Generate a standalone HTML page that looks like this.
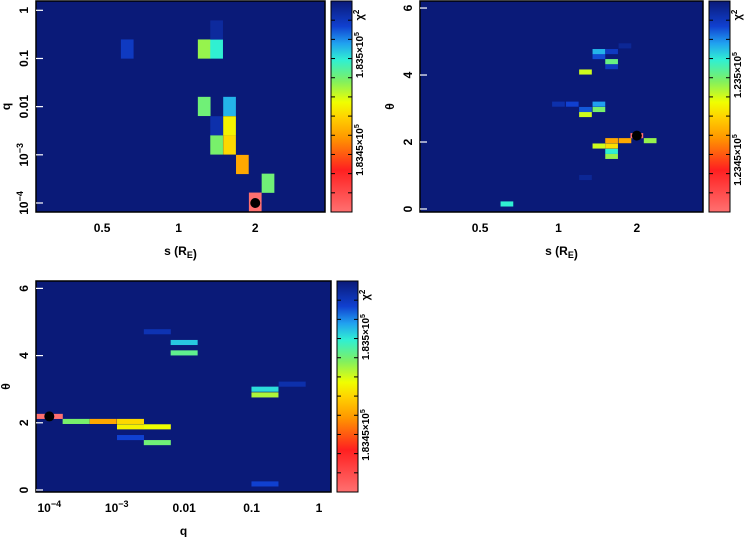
<!DOCTYPE html>
<html><head><meta charset="utf-8"><style>
html,body{margin:0;padding:0;background:#fff;}
svg{display:block;font-family:"Liberation Sans",sans-serif;font-weight:bold;}
</style></head><body>
<svg id="c" width="754" height="537" xmlns="http://www.w3.org/2000/svg"></svg>
<script>
// Panel A: s vs q
const aS = [0.628,1.26,1.41,1.41,1.26,1.585,1.41,1.585,1.41,1.585,1.78,2.245,2.0];
const aQ = [0.157,0.157,0.157,0.39,0.0101,0.0101,0.004,0.004,0.0016,0.0016,6.3e-4,2.57e-4,1.04e-4];
const aV = [0.9,0.6,0.72,0.95,0.64,0.78,0.93,0.5,0.63,0.46,0.38,0.64,0.0];
// Panel B: s vs theta
const bS = [0.634,1.27,1.60,1.60,1.43,1.60,1.60,1.80,2.0,2.25,1.27,1.27,1.43,1.43,1.0,1.13,1.27,1.60,1.60,1.43,1.43,1.60,1.80];
const bT = [0.15,0.94,1.57,1.72,1.88,1.88,2.04,2.04,2.19,2.04,2.82,2.97,2.97,3.13,3.13,3.13,4.09,4.25,4.40,4.55,4.70,4.70,4.87];
const bV = [0.72,0.96,0.6,0.72,0.55,0.47,0.38,0.38,0.0,0.6,0.55,0.86,0.63,0.8,0.93,0.88,0.55,0.9,0.65,0.87,0.78,0.9,0.96];
// Panel C: q vs theta
const cQ = [1e-4,2.5e-4,6.3e-4,1.6e-3,1.6e-3,4e-3,1.6e-3,4e-3,4e-3,0.01,0.01,0.158,0.158,0.4,0.158];
const cT = [2.19,2.04,2.04,2.04,1.88,1.88,1.56,1.41,4.71,4.39,4.08,3.0,2.83,3.15,0.18];
const cV = [0.0,0.63,0.38,0.46,0.5,0.52,0.88,0.64,0.92,0.76,0.66,0.74,0.58,0.93,0.88];
const best = {A:[2.0,1e-4],B:[2.0,2.19],C:[1e-4,2.19]};

const NS="http://www.w3.org/2000/svg";
const svg=document.getElementById('c');
function mk(t,a,p){const e=document.createElementNS(NS,t);for(const k in a)e.setAttribute(k,a[k]);(p||svg).appendChild(e);return e;}
const stops=[[0,[255,112,112]],[0.2,[255,32,32]],[0.35,[255,150,0]],[0.45,[255,210,0]],[0.52,[240,255,0]],[0.62,[128,240,96]],[0.72,[48,240,210]],[0.8,[32,160,240]],[0.88,[16,64,208]],[1,[10,26,120]]];
function cmap(v){for(let i=1;i<stops.length;i++){if(v<=stops[i][0]){const a=stops[i-1],b=stops[i],f=(v-a[0])/(b[0]-a[0]);const c=a[1].map((x,j)=>Math.round(x+(b[1][j]-x)*f));return `rgb(${c})`;}}return 'rgb(10,26,120)';}
// gradient
const defs=mk('defs',{});const g=mk('linearGradient',{id:'cb',x1:0,y1:1,x2:0,y2:0},defs);
stops.forEach(s=>mk('stop',{offset:s[0],'stop-color':cmap(s[0])},g));

function log(x){return Math.log10(x);}
function panel(o){
  const grp=mk('g',{});
  
  
  const X=v=>o.x0+(o.xf(v)-o.xf(o.xmin))/(o.xf(o.xmax)-o.xf(o.xmin))*(o.x1-o.x0);
  const Y=v=>o.y1-(o.yf(v)-o.yf(o.ymin))/(o.yf(o.ymax)-o.yf(o.ymin))*(o.y1-o.y0);
  const bg=mk('rect',{x:o.x0,y:o.y0,width:o.x1-o.x0,height:o.y1-o.y0,fill:'rgb(10,26,120)'},grp);
  
  
  for(let i=0;i<o.xs.length;i++){
    const cx=X(o.xs[i]),cy=Y(o.ys[i]);
    const r=mk('rect',{x:cx-o.cw/2,y:cy-o.ch/2,width:o.cw,height:o.ch,fill:cmap(o.vs[i])},grp);
    
    
  }
  const d=mk('circle',{cx:X(o.best[0]),cy:Y(o.best[1]),r:5,fill:'#000'},grp);
  
  
  // frame
  mk('rect',{x:o.x0,y:o.y0,width:o.x1-o.x0,height:o.y1-o.y0,fill:'none',stroke:'#000','stroke-width':1.5},grp);
  // y ticks
  o.yticks.forEach((t,i)=>{const y=Y(t);mk('line',{x1:o.x0,x2:o.x0+7,y1:y,y2:y,stroke:'#fff','stroke-width':1.2},grp);
    const tx=mk('text',{x:0,y:0,'font-size':12,'text-anchor':'middle',transform:`translate(${o.x0-8},${y}) rotate(-90)`},grp);tx.innerHTML=o.ylab[i];
    
    });
  o.xticks.forEach((t,i)=>{const x=X(t);
    const tx=mk('text',{x:x,y:o.y1+20,'font-size':12,'text-anchor':'middle'},grp);tx.innerHTML=o.xlab[i];
    
    });
  const xt=mk('text',{x:(o.x0+o.x1)/2,y:o.y1+43,'font-size':12,'text-anchor':'middle'},grp);xt.innerHTML=o.xtitle;
  
  
  const yt=mk('text',{x:0,y:0,'font-size':12,'text-anchor':'middle',transform:`translate(${o.x0-26},${(o.y0+o.y1)/2}) rotate(-90)`},grp);yt.innerHTML=o.ytitle;
  
  
  // colorbar
  const cb=mk('rect',{x:o.x1+6,y:o.y0,width:21,height:o.y1-o.y0,fill:'url(#cb)',stroke:'#000','stroke-width':1},grp);
  
  
  for(let k=1;k<11;k++){const y=o.y0+k*(o.y1-o.y0)/11;mk('line',{x1:o.x1+6,x2:o.x1+10,y1:y,y2:y,stroke:'#000'},grp);mk('line',{x1:o.x1+23,x2:o.x1+27,y1:y,y2:y,stroke:'#000'},grp);}
  o.cbl.forEach(([txt,yy])=>{const t=mk('text',{x:0,y:0,'font-size':10,'text-anchor':'middle',transform:`translate(${o.x1+38},${yy}) rotate(-90)`},grp);t.innerHTML=txt;
    
    });
  const ch=mk('text',{x:0,y:0,'font-size':11,'text-anchor':'middle',transform:`translate(${o.x1+38},${o.y0+14}) rotate(-90)`},grp);ch.innerHTML='χ<tspan dy="-4" font-size="8">2</tspan>';
  
  
}
const l2=v=>Math.log2(v);
panel({name:'panel-s-q',x0:36,x1:325,y0:1,y1:212,xf:l2,xmin:0.275,xmax:3.76,yf:log,ymin:0.65e-4,ymax:1.56,
  xs:aS,ys:aQ,vs:aV,cw:12.7,ch:19.2,best:best.A,
  yticks:[1,0.1,0.01,1e-3,1e-4],ylab:['1','0.1','0.01','10<tspan dy="-5" font-size="9">−3</tspan>','10<tspan dy="-5" font-size="9">−4</tspan>'],
  xticks:[0.5,1,2],xlab:['0.5','1','2'],xtitle:'s (R<tspan dy="3" font-size="9">E</tspan>)',ytitle:'q',
  cbl:[['1.835×10<tspan dy="-4" font-size="7">5</tspan>',55],['1.8345×10<tspan dy="-4" font-size="7">5</tspan>',150]]});
panel({name:'panel-s-theta',x0:420,x1:703,y0:1,y1:212,xf:l2,xmin:0.294,xmax:3.59,yf:v=>v,ymin:-0.09,ymax:6.21,
  xs:bS,ys:bT,vs:bV,cw:12.7,ch:5.1,best:best.B,
  yticks:[0,2,4,6],ylab:['0','2','4','6'],
  xticks:[0.5,1,2],xlab:['0.5','1','2'],xtitle:'s (R<tspan dy="3" font-size="9">E</tspan>)',ytitle:'θ',
  cbl:[['1.235×10<tspan dy="-4" font-size="7">5</tspan>',75],['1.2345×10<tspan dy="-4" font-size="7">5</tspan>',160]]});
panel({name:'panel-q-theta',x0:36,x1:331,y0:281,y1:492,xf:log,xmin:10**(-4-13.3/67.4),xmax:10**(12/67.4),yf:v=>v,ymin:-0.06,ymax:6.22,
  xs:cQ,ys:cT,vs:cV,cw:27,ch:5.1,best:best.C,
  yticks:[0,2,4,6],ylab:['0','2','4','6'],
  xticks:[1e-4,1e-3,0.01,0.1,1],xlab:['10<tspan dy="-5" font-size="9">−4</tspan>','10<tspan dy="-5" font-size="9">−3</tspan>','0.01','0.1','1'],xtitle:'q',ytitle:'θ',
  cbl:[['1.835×10<tspan dy="-4" font-size="7">5</tspan>',337],['1.8345×10<tspan dy="-4" font-size="7">5</tspan>',435]]});
</script>
</body></html>
